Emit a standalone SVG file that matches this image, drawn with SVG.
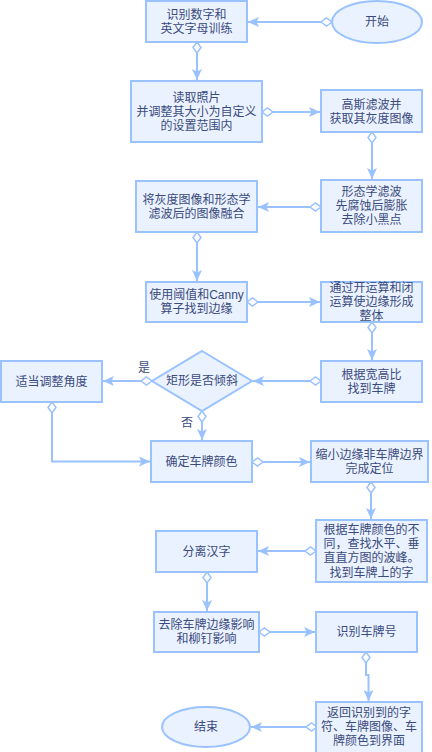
<svg xmlns="http://www.w3.org/2000/svg" width="432" height="752" viewBox="0 0 432 752">
<defs>
<style>
.n{fill:#eaf2ff;stroke:#99c2ff;stroke-width:2}
.t{font-family:"Liberation Sans","Noto Sans CJK SC",sans-serif;font-size:12px;fill:#3a4a7c;text-anchor:middle;dominant-baseline:central}
.e{fill:none;stroke:#99c2ff;stroke-width:2;marker-start:url(#dia);marker-end:url(#arr)}
</style>
<marker id="dia" markerUnits="userSpaceOnUse" markerWidth="14" markerHeight="10" viewBox="-1 -5 14 10" refX="0" refY="0" orient="auto"><path d="M0,0 L5.5,-4 L11,0 L5.5,4 Z" fill="#ffffff" stroke="#99c2ff" stroke-width="1.5"/></marker>
<marker id="arr" markerUnits="userSpaceOnUse" markerWidth="12" markerHeight="12" viewBox="0 -6 12 12" refX="11" refY="0" orient="auto"><path d="M0,-5 L11,0 L0,5 L2.5,0 Z" fill="#99c2ff"/></marker>
</defs>
<rect width="432" height="752" fill="#ffffff"/>
<g id="connectors">
<path class="e" d="M332,22 H248"/>
<path class="e" d="M197,42 V80"/>
<path class="e" d="M262,112 H320"/>
<path class="e" d="M372,132 V179"/>
<path class="e" d="M321,207 H258"/>
<path class="e" d="M197,232 V281"/>
<path class="e" d="M247,302 H320"/>
<path class="e" d="M372,322 V360"/>
<path class="e" d="M321,381 H253"/>
<path class="e" d="M152,381 H103"/>
<path class="e" d="M202,411 V440"/>
<path class="e" d="M52,402 V461.5 H150"/>
<path class="e" d="M252,462 H310"/>
<path class="e" d="M371,482 V519"/>
<path class="e" d="M316,551 H258"/>
<path class="e" d="M207,572 V611"/>
<path class="e" d="M259,632 H315"/>
<path class="e" d="M366,652 V675 H368.5 V701"/>
<path class="e" d="M317,727 H251"/>
<text class="t" x="144" y="368">是</text>
<text class="t" x="187" y="423">否</text>
</g>
<g id="start"><ellipse class="n" cx="377" cy="22" rx="45" ry="21"/><text class="t" x="377" y="22">开始</text></g>
<g id="n1"><rect class="n" x="146" y="1" width="101" height="41"/><text class="t" y="14.5"><tspan x="196.5">识别数字和</tspan><tspan x="196.5" dy="14">英文字母训练</tspan></text></g>
<g id="n2"><rect class="n" x="131" y="81" width="131" height="61"/><text class="t" y="98"><tspan x="196.5">读取照片</tspan><tspan x="196.5" dy="14">并调整其大小为自定义</tspan><tspan x="196.5" dy="14">的设置范围内</tspan></text></g>
<g id="n3"><rect class="n" x="321" y="90" width="101" height="42"/><text class="t" y="104.5"><tspan x="371.5">高斯滤波并</tspan><tspan x="371.5" dy="14">获取其灰度图像</tspan></text></g>
<g id="n4"><rect class="n" x="136" y="181" width="121" height="51"/><text class="t" y="199.5"><tspan x="196.5">将灰度图像和形态学</tspan><tspan x="196.5" dy="14">滤波后的图像融合</tspan></text></g>
<g id="n5"><rect class="n" x="321" y="180" width="101" height="52"/><text class="t" y="192"><tspan x="371.5">形态学滤波</tspan><tspan x="371.5" dy="14">先腐蚀后膨胀</tspan><tspan x="371.5" dy="14">去除小黑点</tspan></text></g>
<g id="n6"><rect class="n" x="146" y="282" width="101" height="40"/><text class="t" y="295"><tspan x="196.5">使用阈值和Canny</tspan><tspan x="196.5" dy="14">算子找到边缘</tspan></text></g>
<g id="n7"><rect class="n" x="321" y="282" width="101" height="40"/><text class="t" y="288"><tspan x="371.5">通过开运算和闭</tspan><tspan x="371.5" dy="14">运算使边缘形成</tspan><tspan x="371.5" dy="14">整体</tspan></text></g>
<g id="n8"><rect class="n" x="321" y="361" width="101" height="41"/><text class="t" y="374.5"><tspan x="371.5">根据宽高比</tspan><tspan x="371.5" dy="14">找到车牌</tspan></text></g>
<g id="d1"><path class="n" d="M202,351 L252,381 L202,411 L152,381 Z"/><text class="t" x="202" y="381">矩形是否倾斜</text></g>
<g id="n9"><rect class="n" x="1" y="361" width="101" height="41"/><text class="t" x="51.5" y="381.5">适当调整角度</text></g>
<g id="n10"><rect class="n" x="151" y="441" width="101" height="41"/><text class="t" x="201.5" y="461.5">确定车牌颜色</text></g>
<g id="n11"><rect class="n" x="311" y="441" width="117" height="41"/><text class="t" y="454.5"><tspan x="369.5">缩小边缘非车牌边界</tspan><tspan x="369.5" dy="14">完成定位</tspan></text></g>
<g id="n12"><rect class="n" x="316" y="520" width="111" height="62"/><text class="t" y="530"><tspan x="371.5">根据车牌颜色的不</tspan><tspan x="371.5" dy="14.2">同，查找水平、垂</tspan><tspan x="371.5" dy="14.2">直直方图的波峰。</tspan><tspan x="371.5" dy="14.2">找到车牌上的字</tspan></text></g>
<g id="n13"><rect class="n" x="156" y="531" width="101" height="41"/><text class="t" x="206.5" y="551.5">分离汉字</text></g>
<g id="n14"><rect class="n" x="154" y="612" width="105" height="40"/><text class="t" y="624.5"><tspan x="206.5">去除车牌边缘影响</tspan><tspan x="206.5" dy="14">和柳钉影响</tspan></text></g>
<g id="n15"><rect class="n" x="316" y="612" width="101" height="40"/><text class="t" x="366.5" y="632">识别车牌号</text></g>
<g id="n16"><rect class="n" x="316" y="702" width="106" height="52"/><text class="t" y="712.5"><tspan x="369">返回识别到的字</tspan><tspan x="369" dy="14">符、车牌图像、车</tspan><tspan x="369" dy="14">牌颜色到界面</tspan></text></g>
<g id="end"><ellipse class="n" cx="206" cy="727" rx="44" ry="20"/><text class="t" x="206" y="727">结束</text></g>
</svg>
